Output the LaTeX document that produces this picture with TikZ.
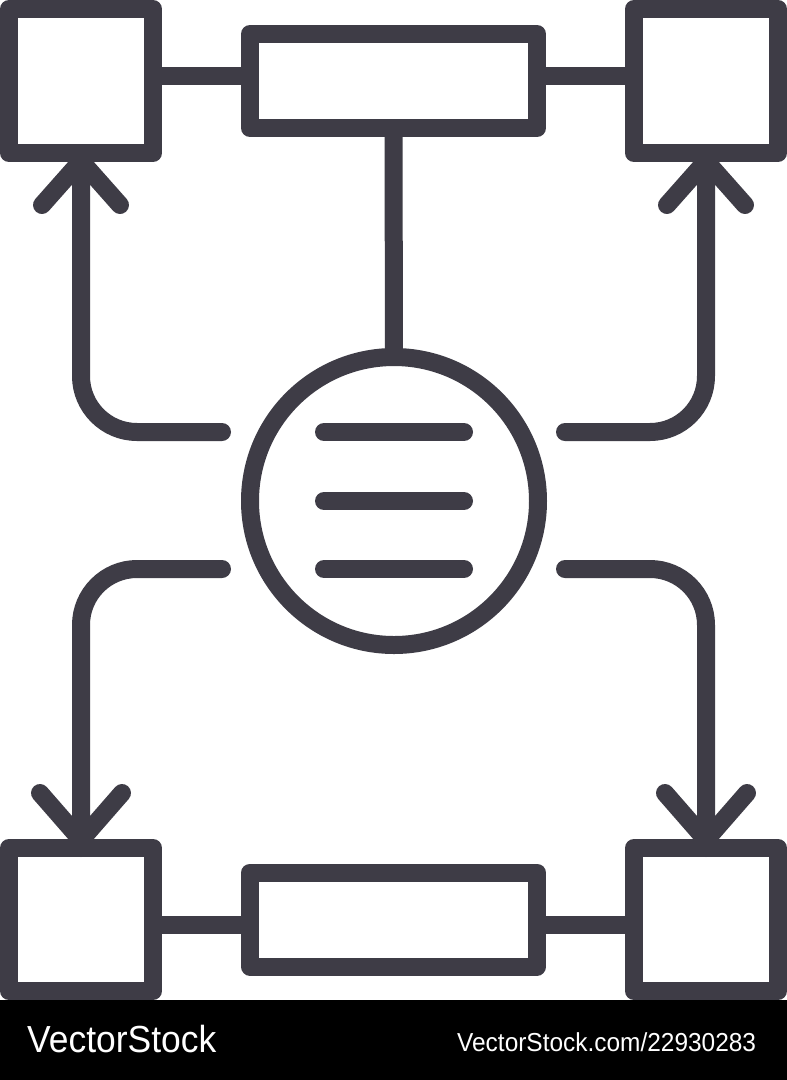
\documentclass[tikz,border=0pt]{standalone}
\usepackage{fontspec}
\setmainfont{Liberation Sans}
\definecolor{ic}{RGB}{62,60,70}
\begin{document}
\begin{tikzpicture}[x=1pt,y=-1pt,
  ink/.style={draw=ic, line width=18pt, line join=round},
  sq/.style={ink, rectangle, inner sep=0pt, outer sep=0pt, minimum width=144pt, minimum height=144pt},
  bar/.style={ink, rectangle, inner sep=0pt, outer sep=0pt, minimum width=287pt, minimum height=94pt},
  link/.style={draw=ic, line width=18pt, line cap=round, line join=round},
  flat/.style={draw=ic, line width=18pt, line cap=butt},
  wm/.style={text=white, anchor=base west, inner sep=0pt}
]
\fill[white] (0,0) rectangle (787,1000);
\fill[black] (0,1000) rectangle (787,1080);
\useasboundingbox (0,0) rectangle (787,1080);

% boxes
\node[sq] (tl) at (81,81) {};
\node[sq] (tr) at (706,81) {};
\node[bar] (tb) at (393.5,81) {};
\node[sq, minimum height=143pt] (bl) at (81,919.5) {};
\node[sq, minimum height=143pt] (br) at (706,919.5) {};
\node[bar] (bb) at (393.5,919.5) {};
\node[ink, circle, inner sep=0pt, outer sep=0pt, minimum size=288pt] (c) at (394,501) {};

% straight links
\draw[flat] ([yshift=5pt]tl.east) -- ([yshift=5pt]tb.west);
\draw[flat] ([yshift=5pt]tb.east) -- ([yshift=5pt]tr.west);
\draw[flat] ([yshift=-5.5pt]bl.east) -- ([yshift=-5.5pt]bb.west);
\draw[flat] ([yshift=-5.5pt]bb.east) -- ([yshift=-5.5pt]br.west);
\draw[flat] (tb.south) -- (c.north);

% lines inside circle
\draw[link] ([xshift=-70pt,yshift=69pt]c.center) -- ([xshift=70pt,yshift=69pt]c.center);
\draw[link] ([xshift=-70pt]c.center) -- ([xshift=70pt]c.center);
\draw[link] ([xshift=-70pt,yshift=-68pt]c.center) -- ([xshift=70pt,yshift=-68pt]c.center);

% curved connectors
\coordinate (a1) at (222,432);
\coordinate (a2) at (565,432);
\coordinate (a3) at (222,569);
\coordinate (a4) at (565,569);
\draw[link, rounded corners=56pt] (a1) -- (81,432) -- (tl.south);
\draw[link, rounded corners=56pt] (a2) -- (706,432) -- (tr.south);
\draw[link, rounded corners=56pt] (a3) -- (81,569) -- (bl.north);
\draw[link, rounded corners=56pt] (a4) -- (706,569) -- (br.north);

% arrow heads
\draw[link] (42,205) -- ([yshift=-8pt]tl.south) -- (120,205);
\draw[link] (667,205) -- ([yshift=-8pt]tr.south) -- (745,205);
\draw[link] (40,793) -- ([yshift=8pt]bl.north) -- (122,793);
\draw[link] (665,793) -- ([yshift=8pt]br.north) -- (747,793);

% watermark
\node[wm, font=\fontsize{37.7}{40}\selectfont] (w1) at (27,1052) {\scalebox{0.94}[1]{VectorStock}};
\node[wm, font=\fontsize{26}{28}\selectfont] (w2) at (457,1051) {\scalebox{0.94}[1]{VectorStock.com/22930283}};
\end{tikzpicture}
\end{document}
